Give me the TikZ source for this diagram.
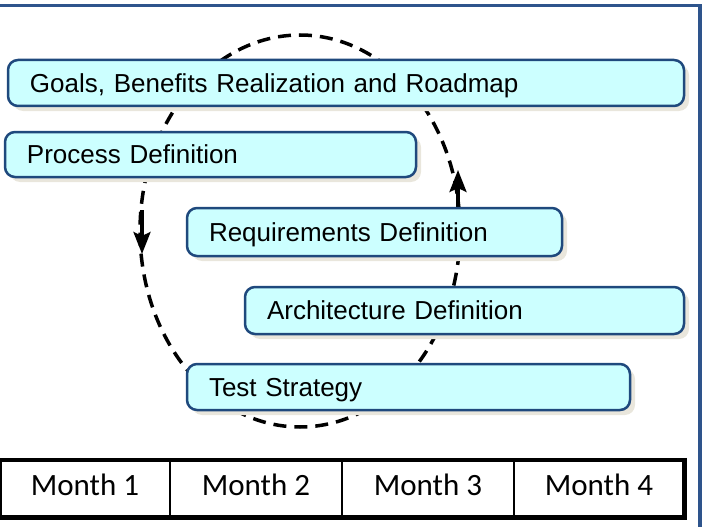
\documentclass[tikz,border=0pt]{standalone}
\usepackage{fontspec}
\setmainfont{Liberation Sans}
\newfontfamily\calfont{Carlito}
\usetikzlibrary{arrows.meta,shadows}
\definecolor{framecol}{RGB}{46,84,140}
\definecolor{boxfill}{RGB}{204,255,255}
\definecolor{boxborder}{RGB}{31,73,125}
\definecolor{shadowcol}{RGB}{233,230,220}
\tikzset{
  stagebox/.style={draw=boxborder, line width=2.5pt, fill=boxfill,
    rounded corners=10pt, anchor=north west, align=left,
    inner xsep=22pt, inner ysep=0pt, outer sep=0pt,
    text height=18.6pt, text depth=0pt,
    font=\fontsize{26}{30}\selectfont,
    drop shadow={shadow xshift=5pt, shadow yshift=-5pt, fill=shadowcol, opacity=1}},
  cyclepath/.style={line width=3.5pt, dash pattern=on 13pt off 8pt},
  cyclearrow/.style={line width=3.5pt, -{Stealth[length=22pt,width=17pt,inset=4pt]}},
  monthlabel/.style={font=\calfont\fontsize{31}{36}\selectfont, text height=20pt, text depth=0pt, inner sep=0pt},
  tablethick/.style={line width=4.5pt},
  tablethin/.style={line width=2pt}
}
\begin{document}
\begin{tikzpicture}[x=1pt,y=-1pt]
\useasboundingbox (0,0) rectangle (702,527);
\clip (0,0) rectangle (702,527);
% outer frame
\coordinate (fa) at (-10,5.5);
\coordinate (fb) at (700,5.5);
\coordinate (fc) at (700,540);
\draw[framecol, line width=3.5pt] (fa) -- (fb) -- (fc);
% dashed cycle
\draw[cyclepath] (300,231) ellipse [x radius=160, y radius=196];
\coordinate (la) at (142,210);
\coordinate (lb) at (142,254);
\coordinate (ra) at (458,207);
\coordinate (rb) at (458,170);
\draw[cyclearrow] (la) -- (lb);
\draw[cyclearrow] (ra) -- (rb);
% boxes
\node[stagebox, text width=632pt, minimum height=46pt] (goals) at (8,60) {Goals, Benefits Realization and Roadmap};
\node[stagebox, text width=367pt, minimum height=45pt] (process) at (5,132) {Process Definition};
\node[stagebox, text width=331pt, minimum height=48pt] (req) at (187,208) {Requirements Definition};
\node[stagebox, text width=395pt, minimum height=47pt] (arch) at (245,287) {Architecture Definition};
\node[stagebox, text width=399pt, minimum height=46pt] (test) at (187,364) {Test Strategy};
% table
\draw[tablethin] (1,460) -- (1,517);
\draw[tablethin] (170,460) -- (170,517);
\draw[tablethin] (342,460) -- (342,517);
\draw[tablethin] (514,460) -- (514,517);
\draw[tablethick] (-3,460) -- (687,460);
\draw[line width=5pt] (-3,517) -- (687,517);
\draw[line width=5pt] (684.5,457.75) -- (684.5,519.5);
\node[monthlabel] (m1) at (85,485.5) {Month 1};
\node[monthlabel] (m2) at (256,485.5) {Month 2};
\node[monthlabel] (m3) at (428,485.5) {Month 3};
\node[monthlabel] (m4) at (599,485.5) {Month 4};
\end{tikzpicture}
\end{document}
